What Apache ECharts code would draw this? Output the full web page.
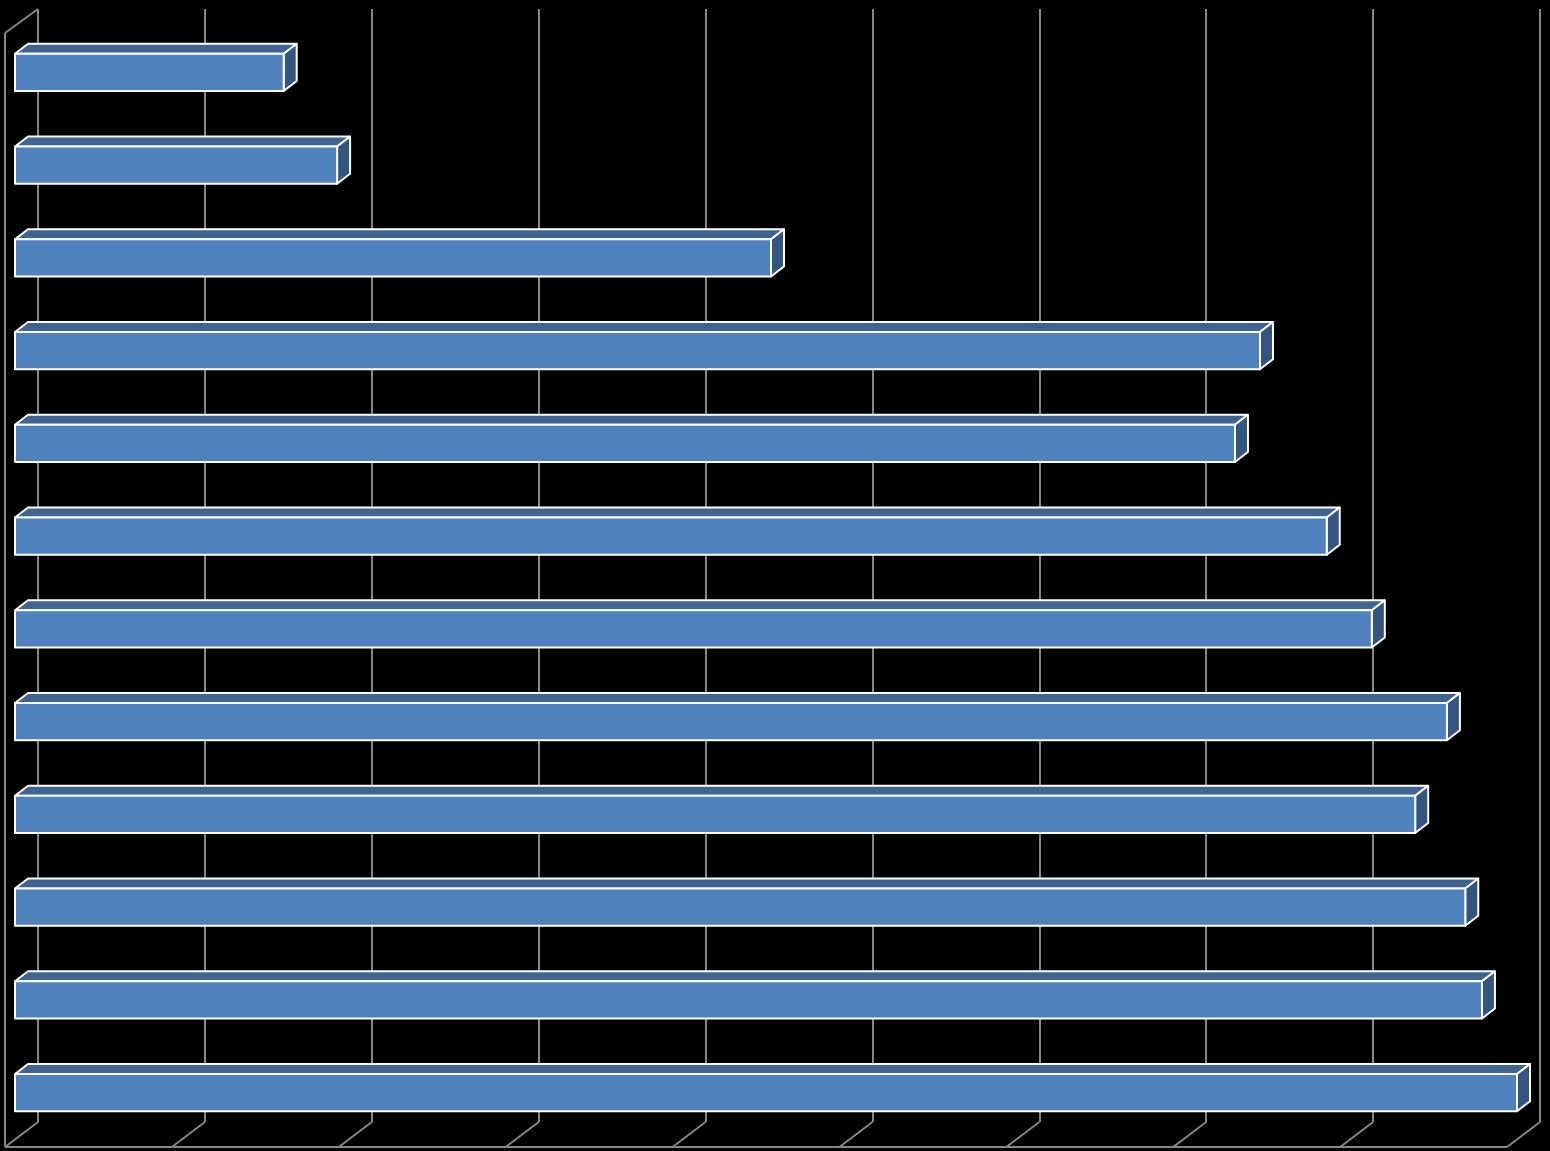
<!DOCTYPE html>
<html>
<head>
<meta charset="utf-8">
<script src="https://cdn.jsdelivr.net/npm/echarts@6/dist/echarts.min.js"></script>
<style>
html,body{margin:0;padding:0;background:#000;}
#chart{width:1550px;height:1151px;}
</style>
</head>
<body>
<div id="chart"></div>
<script>
// Categories (no labels shown in the reference), top to bottom
var categories = ['1','2','3','4','5','6','7','8','9','10','11','12'];
// Bar values, top to bottom
var values = [16.1, 19.3, 45.3, 74.6, 73.1, 78.6, 81.3, 85.8, 83.9, 86.9, 87.9, 90.0];
// Value axis ticks
var axisTicks = [0, 10, 20, 30, 40, 50, 60, 70, 80, 90];

var chart = echarts.init(document.getElementById('chart'));

var DEPTH = [-33, 25];      // back wall -> front edge of floor
var FRONT = [-23, 17];      // back wall -> bar front face
var BACK = [-10, 7];        // back wall -> bar back face
var GRID_COLOR = '#868686';

function barItem(params, api) {
  var v = api.value(0), c = api.value(1);
  var p0 = api.coord([0, c]);
  var p1 = api.coord([v, c]);
  var h = api.size([0, 1])[1] * 0.4;
  var fx0 = p0[0] + FRONT[0], fx1 = p1[0] + FRONT[0];
  var fy0 = p0[1] + FRONT[1] - h / 2, fy1 = p0[1] + FRONT[1] + h / 2;
  var bx0 = p0[0] + BACK[0], bx1 = p1[0] + BACK[0];
  var by0 = p0[1] + BACK[1] - h / 2, by1 = p0[1] + BACK[1] + h / 2;
  var stroke = {stroke: '#ffffff', lineWidth: 2, lineJoin: 'round'};
  return {
    type: 'group',
    children: [
      {type: 'polygon', shape: {points: [[fx0, fy0], [fx1, fy0], [bx1, by0], [bx0, by0]]},
        style: Object.assign({fill: '#3F6492'}, stroke)},
      {type: 'polygon', shape: {points: [[fx1, fy0], [bx1, by0], [bx1, by1], [fx1, fy1]]},
        style: Object.assign({fill: '#34557F'}, stroke)},
      {type: 'rect', shape: {x: fx0, y: fy0, width: fx1 - fx0, height: fy1 - fy0},
        style: Object.assign({fill: '#4F81BD'}, stroke)}
    ]
  };
}

function wallItem(params, api) {
  var cs = params.coordSys;
  var v = api.value(0);
  var x = api.coord([v, 0])[0];
  var yb = cs.y + cs.height;
  var ls = {stroke: GRID_COLOR, lineWidth: 2};
  var children = [
    {type: 'line', shape: {x1: x, y1: yb, x2: x + DEPTH[0], y2: yb + DEPTH[1]}, style: ls}
  ];
  if (params.dataIndex === 0) {
    children.push({type: 'line', shape: {x1: x, y1: cs.y, x2: x + DEPTH[0], y2: cs.y + DEPTH[1] - 1}, style: ls});
    children.push({type: 'line', shape: {x1: x + DEPTH[0], y1: cs.y + DEPTH[1] - 1, x2: x + DEPTH[0], y2: yb + DEPTH[1]}, style: ls});
  }
  if (params.dataIndex === axisTicks.length - 1) {
    var x0 = api.coord([axisTicks[0], 0])[0];
    children.push({type: 'line', shape: {x1: x0 + DEPTH[0], y1: yb + DEPTH[1], x2: x + DEPTH[0], y2: yb + DEPTH[1]}, style: ls});
  }
  return {type: 'group', children: children};
}

chart.setOption({
  backgroundColor: '#000000',
  animation: false,
  grid: {left: 38, right: 10, top: 9, bottom: 29, containLabel: false},
  xAxis: {
    type: 'value', min: 0, max: 90, interval: 10,
    axisLine: {show: false}, axisTick: {show: false}, axisLabel: {show: false},
    splitLine: {show: true, lineStyle: {color: GRID_COLOR, width: 2}}
  },
  yAxis: {
    type: 'category', data: categories, inverse: true,
    axisLine: {show: false}, axisTick: {show: false}, axisLabel: {show: false},
    splitLine: {show: false}
  },
  series: [
    {
      type: 'custom', name: 'walls', clip: false, silent: true,
      renderItem: wallItem,
      data: axisTicks.map(function (t) { return [t, 0]; }),
      z: 1
    },
    {
      type: 'custom', name: 'bars', clip: false,
      renderItem: barItem,
      encode: {x: 0, y: 1},
      data: values.map(function (v, i) { return [v, i]; }),
      z: 2
    }
  ]
});
</script>
</body>
</html>
